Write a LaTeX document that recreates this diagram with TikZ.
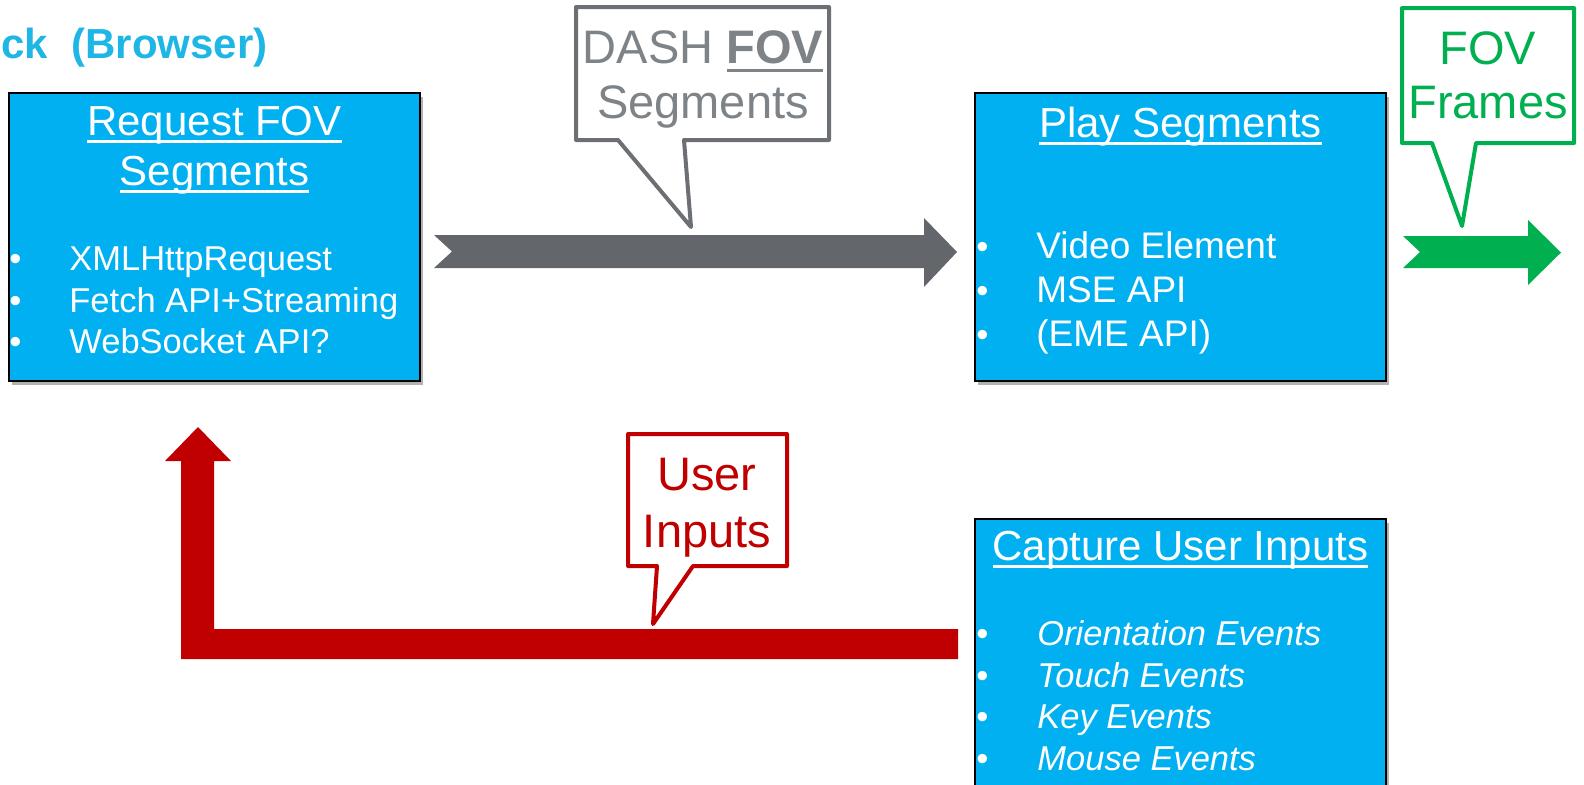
\documentclass[tikz,border=0pt]{standalone}
\usepackage{fontspec}
\setmainfont{Liberation Sans}
\usetikzlibrary{shadows}
\definecolor{boxblue}{RGB}{0,176,240}
\definecolor{titleblue}{RGB}{30,182,228}
\definecolor{arrowgray}{RGB}{99,102,106}
\definecolor{callgray}{RGB}{108,112,117}
\definecolor{textgray}{RGB}{126,131,136}
\definecolor{fovgreen}{RGB}{0,176,80}
\definecolor{userred}{RGB}{192,0,0}
\newcommand\myul[1]{\setbox0\hbox{#1}\rlap{\rule[-0.19em]{\wd0}{0.06em}}\box0}
\begin{document}
\begin{tikzpicture}[x=0.5pt,y=-0.5pt,
  bluebox/.style={draw=black, line width=0.75pt, fill=boxblue, inner sep=0pt,
    minimum width=205.5pt, minimum height=144pt,
    drop shadow={shadow xshift=1.5pt, shadow yshift=-2pt, fill=black, opacity=0.3}},
  hdr/.style={text=white, inner sep=0pt, anchor=base, font=\fontsize{21}{25}\selectfont},
  bul/.style={text=white, inner sep=0pt, anchor=base west},
  itemA/.style={text=white, inner sep=0pt, anchor=base west, font=\fontsize{17.25}{20}\selectfont},
  itemB/.style={text=white, inner sep=0pt, anchor=base west, font=\fontsize{18.5}{22}\selectfont},
  itemC/.style={text=white, inner sep=0pt, anchor=base west, font=\itshape\fontsize{17.25}{20}\selectfont},
  ctext/.style={inner sep=0pt, anchor=base, font=\fontsize{23.5}{28}\selectfont},
  callout/.style={line width=2pt, fill=white, line join=round}
]
\useasboundingbox (0,0) rectangle (1584,784);
\clip (0,0) rectangle (1584,784);

% title
\node[anchor=base east, inner sep=0pt, text=titleblue, font=\bfseries\fontsize{21}{25}\selectfont] (title) at (268,58) {ck\ \ (Browser)};

% boxes
\node[bluebox] (req) at (214.5,237) {};
\node[bluebox] (play) at (1180.5,237) {};
\node[bluebox] (cap) at (1180.5,663) {};

% box 1 text
\node[hdr] (reqh1) at (214.5,135) {\myul{Request FOV}};
\node[hdr] (reqh2) at (214.5,185) {\myul{Segments}};
\foreach \t/\y [count=\i] in {XMLHttpRequest/270, Fetch API+Streaming/312, WebSocket API?/353} {
  \node[bul, font=\fontsize{17.25}{20}\selectfont] (reqb\i) at (9,\y) {•};
  \node[itemA] (reqi\i) at (69,\y) {\t};
}

% box 2 text
\node[hdr] (playh) at (1180.5,137) {\myul{Play Segments}};
\foreach \t/\y [count=\i] in {Video Element/258, MSE API/302, (EME API)/346} {
  \node[bul, font=\fontsize{17.25}{20}\selectfont] (playb\i) at (976,\y) {•};
  \node[itemB] (playi\i) at (1036,\y) {\t};
}

% box 3 text
\node[hdr] (caph) at (1180.5,560) {\myul{Capture User Inputs}};
\foreach \t/\y [count=\i] in {Orientation Events/645, Touch Events/687, Key Events/728, Mouse Events/770} {
  \node[bul, font=\fontsize{17.25}{20}\selectfont] (capb\i) at (976,\y) {•};
  \node[itemC] (capi\i) at (1037,\y) {\t};
}

% block arrows
\fill[arrowgray] (434,235) -- (924,235) -- (924,218) -- (957,252) -- (924,287) -- (924,268) -- (434,268) -- (452,251.5) -- cycle;
\fill[fovgreen] (1403,236) -- (1528,236) -- (1528,220) -- (1561,252.5) -- (1528,285) -- (1528,268) -- (1403,268) -- (1420,252) -- cycle;
\fill[userred] (958,629) -- (958,659) -- (181,659) -- (181,461) -- (165,461) -- (198,427) -- (231,461) -- (214,461) -- (214,629) -- cycle;

% callouts
\draw[callout, draw=callgray] (576,7) -- (829,7) -- (829,140) -- (684,140) -- (691,227) -- (618,140) -- (576,140) -- cycle;
\node[ctext, text=textgray] (dash1) at (703,63) {DASH \myul{\textbf{FOV}}};
\node[ctext, text=textgray] (dash2) at (703,118) {Segments};

\draw[callout, draw=fovgreen] (1402,8) -- (1574,8) -- (1574,143) -- (1476,143) -- (1462,226) -- (1432,143) -- (1402,143) -- cycle;
\node[ctext, text=fovgreen] (fov1) at (1488,64) {FOV};
\node[ctext, text=fovgreen] (fov2) at (1488,118) {Frames};

\draw[callout, draw=userred] (628,434) -- (787,434) -- (787,566) -- (693,566) -- (653,624) -- (657,566) -- (628,566) -- cycle;
\node[ctext, text=userred] (user1) at (707,490) {User};
\node[ctext, text=userred] (user2) at (707,547) {Inputs};
\end{tikzpicture}
\end{document}
